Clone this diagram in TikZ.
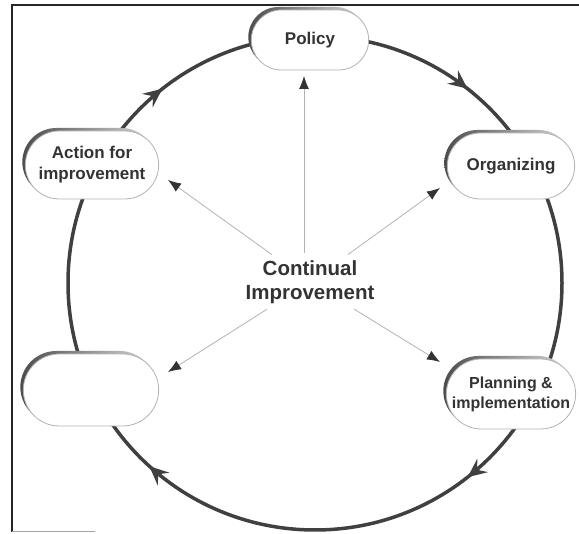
\documentclass[tikz,border=0pt]{standalone}
\usepackage{fontspec}
\setmainfont{Liberation Sans}
\usetikzlibrary{arrows.meta,shapes.misc,shadows,decorations.markings}

\tikzset{
	stage/.style={rounded rectangle, draw=black!30, line width=0.8pt, fill=white, text=black!80,
		align=center, font=\bfseries\fontsize{17}{21}\selectfont,
		general shadow={shadow xshift=-3pt, shadow yshift=3pt, left color=black!70, right color=black!15}},
	spoke/.style={draw=black!30, line width=0.8pt, shorten <=4pt,
		-{Latex[length=13pt, width=10pt, color=black!80]}},
	ringtip/.style={decoration={markings,
		mark=at position 0.106 with {\arrow[black!75]{Stealth[length=19pt, width=17pt, inset=7pt]}},
		mark=at position 0.394 with {\arrow[black!75]{Stealth[length=19pt, width=17pt, inset=7pt]}},
		mark=at position 0.617 with {\arrow[black!75]{Stealth[length=19pt, width=17pt, inset=7pt]}},
		mark=at position 0.894 with {\arrow[black!75]{Stealth[length=19pt, width=17pt, inset=7pt]}}},
		postaction={decorate}}
}

\begin{document}
\begin{tikzpicture}[x=1pt, y=1pt]
	\useasboundingbox (0,0) rectangle (579,534);
	\draw[line width=1.5pt, black!85] (12,2) -- (12,529) -- (579,529);
	\draw[line width=1pt, black!35] (12,2) -- (95,2);

	\draw[ringtip, draw=black!75, line width=3.5pt] (315,251) ++(90:247) arc[start angle=90, end angle=-270, radius=247];

	\node[stage, minimum width=124pt, minimum height=60pt] (pol) at (310,494) {Policy};
	\node[stage, minimum width=140pt, minimum height=68pt] (act) at (92,369) {Action for\\improvement};
	\node[stage, minimum width=134pt, minimum height=66pt] (org) at (511,368) {Organizing};
	\node[stage, minimum width=142pt, minimum height=72pt] (emp) at (91,144) {};
	\node[stage, minimum width=136pt, minimum height=70pt, font=\bfseries\fontsize{16}{20}\selectfont] (pln) at (511,140) {Planning \&\\implementation};

	\node[text=black!80, align=center, font=\bfseries\fontsize{20.5}{24}\selectfont] (ci) at (310,252) {Continual\\Improvement};

	\coordinate (tp) at (304,458);
	\coordinate (tul) at (168,354);
	\coordinate (tur) at (440,346);
	\coordinate (tll) at (168,162);
	\coordinate (tlr) at (440,172);

	\draw[spoke] (ci.north -| tp) -- (tp);
	\draw[spoke] (ci) -- (tul);
	\draw[spoke] (ci) -- (tur);
	\draw[spoke] (ci) -- (tll);
	\draw[spoke] (ci) -- (tlr);
\end{tikzpicture}
\end{document}
